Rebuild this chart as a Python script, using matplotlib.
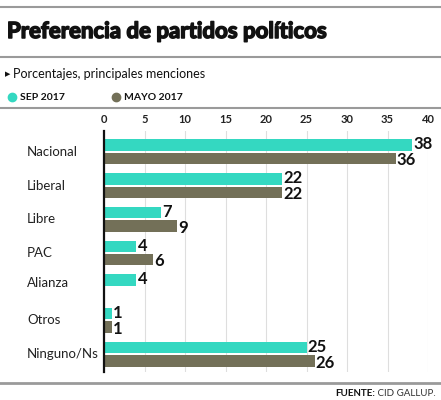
import matplotlib.pyplot as plt
import matplotlib.transforms as mtransforms
import matplotlib.patheffects as pe
from matplotlib.lines import Line2D

plt.rcParams['font.family'] = ['Lato', 'DejaVu Sans']

partidos = ["Nacional", "Liberal", "Libre", "PAC", "Alianza", "Otros", "Ninguno/Ns"]
sep_2017 = [38, 22, 7, 4, 4, 1, 25]
mayo_2017 = [36, 22, 9, 6, None, 1, 26]
ticks = [0, 5, 10, 15, 20, 25, 30, 35, 40]

teal = "#34d8c1"
olive = "#737058"
line_gray = "#9a9a9a"

fig = plt.figure(figsize=(4.41, 4.0), dpi=100)
ax = fig.add_axes([104 / 441, 1 - 372 / 400, 324 / 441, 241 / 400])

off = 0.2
h = 0.34
for i, (s, m) in enumerate(zip(sep_2017, mayo_2017)):
    ax.barh(i - off, s, height=h, color=teal, zorder=2)
    ax.text(s + 0.15, i - off - 0.02, str(s), va="center", ha="left",
            fontsize=12, fontweight="bold", color="#111111", clip_on=False)
    if m is not None:
        ax.barh(i + off, m, height=h, color=olive, zorder=2)
        ax.text(m + 0.15, i + off + 0.05, str(m), va="center", ha="left",
                fontsize=12, fontweight="bold", color="#111111", clip_on=False)

ax.set_xlim(0, 40)
ax.set_ylim(6.53, -0.62)
ax.set_xticks(ticks)
ax.xaxis.tick_top()
ax.tick_params(axis="x", length=0, pad=4, labelsize=8, labelcolor="#222222")
for lab in ax.get_xticklabels():
    lab.set_fontweight("bold")
ax.set_yticks([])
ax.grid(axis="x", color="#dedede", linewidth=0.8, zorder=0)
for sp in ["top", "right", "bottom"]:
    ax.spines[sp].set_visible(False)
ax.spines["left"].set_linewidth(1.6)
ax.spines["left"].set_color("#111111")
ax.spines["left"].set_zorder(3)

# nombres de partidos (si falta una serie, la etiqueta sube un poco)
tr = mtransforms.blended_transform_factory(fig.transFigure, ax.transData)
for i, p in enumerate(partidos):
    y = i if mayo_2017[i] is not None else i - 0.12
    ax.text(27 / 441, y, p, transform=tr, ha="left", va="center",
            fontsize=9.5, color="#222222")

# encabezado
def hline(y, lw=1.5):
    fig.add_artist(Line2D([0, 1], [1 - y / 400, 1 - y / 400], color=line_gray, lw=lw))

hline(7)
hline(57)
hline(108)
hline(383, lw=2)

fig.text(7 / 441, 1 - 38 / 400, "Preferencia de partidos políticos", ha="left",
         va="baseline", fontsize=16, fontweight="bold", color="#111111",
         path_effects=[pe.withStroke(linewidth=1.1, foreground="#111111")])
fig.text(5 / 441, 1 - 74 / 400, "\u25b6", ha="left", va="center",
         fontsize=5, color="#111111", family=["DejaVu Sans"])
fig.text(13 / 441, 1 - 74 / 400, "Porcentajes, principales menciones", ha="left",
         va="center", fontsize=9, color="#111111")

fig.add_artist(Line2D([12 / 441], [1 - 97 / 400], marker="o", markersize=6,
                      color=teal, lw=0))
fig.text(20 / 441, 1 - 97 / 400, "SEP 2017", ha="left", va="center",
         fontsize=7.5, fontweight="bold", color="#111111")
fig.add_artist(Line2D([116 / 441], [1 - 97 / 400], marker="o", markersize=6,
                      color=olive, lw=0))
fig.text(124 / 441, 1 - 97 / 400, "MAYO 2017", ha="left", va="center",
         fontsize=7.5, fontweight="bold", color="#111111")

t1 = fig.text(436 / 441, 1 - 393 / 400, " CID GALLUP.", ha="right", va="center",
              fontsize=7, color="#333333")
fig.canvas.draw()
bb = t1.get_window_extent()
fig.text(bb.x0 / fig.bbox.width, 1 - 393 / 400, "FUENTE:", ha="right", va="center",
         fontsize=7, color="#111111", fontweight="bold")

fig.savefig("out.png", dpi=100)
